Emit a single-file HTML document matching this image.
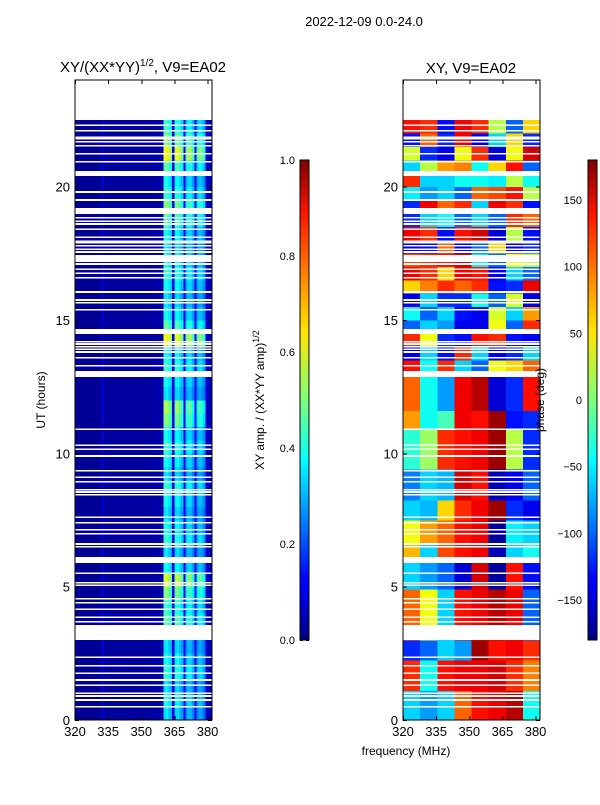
<!DOCTYPE html>
<html><head><meta charset="utf-8"><style>
body{margin:0;background:#fff}
svg text{font-family:"Liberation Sans",sans-serif;fill:#000}
</style></head><body>
<svg id="fig" width="600" height="800" viewBox="0 0 600 800" xmlns="http://www.w3.org/2000/svg" shape-rendering="crispEdges">
<rect width="600" height="800" fill="#fff"/>
<defs>
<linearGradient id="jet" x1="0" y1="1" x2="0" y2="0">
<stop offset="0" stop-color="#00007f"/><stop offset="0.11" stop-color="#0000ff"/><stop offset="0.125" stop-color="#0000ff"/><stop offset="0.34" stop-color="#00dcff"/><stop offset="0.375" stop-color="#00ffff"/><stop offset="0.5" stop-color="#7dff7a"/><stop offset="0.64" stop-color="#ffe600"/><stop offset="0.66" stop-color="#ffd800"/><stop offset="0.89" stop-color="#ff1300"/><stop offset="1" stop-color="#7f0000"/>
</linearGradient>
</defs>
<text x="364" y="26" font-size="13" text-anchor="middle">2022-12-09 0.0-24.0</text>
<text x="143" y="72" font-size="15" text-anchor="middle">XY/(XX*YY)<tspan font-size="10" dy="-6">1/2</tspan><tspan dy="6">, V9=EA02</tspan></text>
<text x="471" y="73" font-size="15" text-anchor="middle">XY, V9=EA02</text>
<g id="leftHeat"></g>
<g id="rightHeat"></g>
<g id="axes"></g>
<text x="406" y="755" font-size="12" text-anchor="middle">frequency (MHz)</text>
<text transform="translate(45,400) rotate(-90)" font-size="12" text-anchor="middle">UT (hours)</text>
<rect x="300" y="160" width="9" height="480" fill="url(#jet)" stroke="#000"/>
<rect x="588" y="160" width="9" height="480" fill="url(#jet)" stroke="#000"/>
<text transform="translate(264,400) rotate(-90)" font-size="12" text-anchor="middle">XY amp. / (XX*YY amp)<tspan font-size="9" dy="-5">1/2</tspan></text>
<text transform="translate(544,400) rotate(-90)" font-size="12" text-anchor="middle">phase (deg)</text>
</svg>
<script>
const NS="http://www.w3.org/2000/svg";
// ---- data ----
const ampFreqStart=[320,321,322,323,324,325,326,327,328,329,330,331,332,333,334,335,336,337,338,339,340,341,342,343,344,345,346,347,348,349,350,351,352,353,354,355,356,357,358,359,360,361,362,363,364,365,366,367,368,369,370,371,372,373,374,375,376,377,378,379,380,381];
const ampBase=[0.02,0.02,0.02,0.02,0.02,0.02,0.02,0.02,0.02,0.02,0.02,0.02,0.1,0.03,0.03,0.03,0.03,0.03,0.03,0.03,0.03,0.03,0.03,0.03,0.03,0.03,0.03,0.03,0.03,0.03,0.03,0.03,0.03,0.03,0.03,0.04,0.04,0.04,0.04,0.04,0.38,0.4,0.36,0.33,0.1,0.36,0.38,0.34,0.31,0.12,0.3,0.34,0.33,0.28,0.12,0.28,0.32,0.3,0.26,0.08,0.06,0.05];
const ampRowMult=[0.9,1.0,0.9,1.1,1.0,0.9,1.0,1.2,1.1,1.3,1.5,1.0,0.9,1.1,1.0,0.9,1.0,1.1,0.9,1.0,1.1,1.0,1.3,1.4,0.9,1.0,1.1,1.0,1.6,1.2,1.0,0.9,1.0,1.1,1.0,0.9,1.0,1.2,1.3,1.1,1.0,1.2,1.6,1.3,1.1];
const phaseFreqEdges=[320,327.75,335.5,343.25,351,358.75,366.5,374.25,382];
const phaseTimeEdges=[0,1.1,2.25,3.0,3.6,4.9,5.9,6.6,7.5,8.25,9.4,10.9,11.6,12.9,13,13.5,14,14.5,15,15.5,16,16.5,17,17.5,18,18.5,19,19.5,20,20.5,21,21.5,22,22.5];
const phaseVals=[
[-60,-80,-60,100,130,140,160,-40],
[120,-40,130,140,140,150,120,90],
[-120,-100,-60,-80,170,130,140,120],
[100,40,-60,130,140,160,140,-100],
[100,40,-60,130,140,160,140,-100],
[-60,-80,-100,-150,150,-170,130,-130],
[70,-60,110,130,140,-160,-60,-40],
[40,80,100,130,140,-170,-50,-60],
[-60,-70,60,120,140,170,-120,-140],
[-90,-60,-70,150,130,-160,-140,-100],
[-30,10,120,130,140,170,20,-120],
[80,-40,-20,140,130,170,-130,-120],
[100,-40,-80,140,160,-150,-120,130],
[100,-40,-80,140,160,-150,-120,130],
[130,-40,120,-60,-100,40,60,100],
[-140,-60,-130,120,-60,-140,-120,-60],
[120,40,-120,-130,130,120,-130,-140],
[-100,-60,-80,-140,-140,40,-100,120],
[-40,-100,-60,-130,-140,30,-60,80],
[-140,-60,-120,-120,-40,-100,30,-140],
[60,90,120,100,120,-130,-120,140],
[140,120,60,140,130,-140,-60,-100],
[110,120,130,150,-50,-100,40,20],
[-140,-130,100,-140,-100,60,-140,-120],
[140,120,-130,130,150,-150,20,-130],
[-120,-60,-40,-100,-60,-100,120,100],
[-120,140,100,120,-60,140,120,-130],
[-50,-80,-60,-100,100,110,130,20],
[120,-60,-60,-40,-40,-50,20,-40],
[-60,20,80,90,-40,60,130,-100],
[30,-120,-140,40,120,-150,40,150],
[-130,100,-120,140,-140,-60,60,-120],
[130,120,-130,140,120,20,-100,60]];
const flagStart=[20.4,18.97,17.17,14.47,12.86,5.89,3.0];
const flagEnd=[20.59,19.2,17.44,14.66,13.09,6.11,3.56];
const thinFlags=[22.31,22.09,21.86,21.79,21.68,21.53,21.23,20.93,19.8,19.5,18.83,18.71,18.6,18.41,18.11,17.96,17.89,17.78,17.66,17.55,17.1,16.91,16.76,16.58,16.05,15.75,15.64,15.38,14.18,14.1,13.99,13.91,13.8,13.58,13.28,10.91,10.31,10.16,9.9,9.34,9.11,8.93,8.63,8.55,8.44,7.61,7.39,7.13,6.98,6.6,6.49,5.51,5.14,5.06,4.54,4.39,4.16,3.86,3.68,2.36,2.03,1.76,1.5,1.31,1.01,0.9,0.75,0.49];
const xTicks=[320,335,350,365,380];
const yTicks=[0,5,10,15,20];
const ampTicks=[0.0,0.2,0.4,0.6,0.8,1.0];
const phaseTicks=[-150,-100,-50,0,50,100,150];
// ---- scales ----
const panels=[{x0:75,g:'leftHeat',n:'left'},{x0:403,g:'rightHeat',n:'right'}];
const W=137, yTop=80, yBot=720, fMin=320, fMax=382, tMax=24;
const xs=(x0,f)=>x0+(f-fMin)/(fMax-fMin)*W;
const ys=h=>yBot-h/tMax*(yBot-yTop);
const ampY=v=>640-v*480;
const phY=v=>400-v/180*240;
function jet(x){x=Math.max(0,Math.min(1,x));const c=v=>Math.round(255*Math.max(0,Math.min(1,v)));
return `rgb(${c(1.5-Math.abs(4*x-3))},${c(1.5-Math.abs(4*x-2))},${c(1.5-Math.abs(4*x-1))})`;}
function R(parent,x,y,w,h,fill){const r=document.createElementNS(NS,'rect');r.setAttribute('x',x);r.setAttribute('y',y);r.setAttribute('width',w);r.setAttribute('height',h);r.setAttribute('fill',fill);parent.appendChild(r);return r;}
function T(parent,x,y,s,anchor){const t=document.createElementNS(NS,'text');t.setAttribute('x',x);t.setAttribute('y',y);t.setAttribute('font-size','13');t.setAttribute('text-anchor',anchor);t.textContent=s;parent.appendChild(t);return t;}
// amplitude heatmap
const L=document.getElementById('leftHeat');
for(let r=0;r<ampRowMult.length;r++){
  const h0=r*0.5,h1=h0+0.5;
  for(let i=0;i<ampBase.length;i++){
    const b=ampBase[i];const v=b<0.2?b:b*ampRowMult[r];
    const x1=xs(75,ampFreqStart[i]),x2=xs(75,ampFreqStart[i]+1);
    const c=R(L,x1,ys(h1),x2-x1+0.3,ys(h0)-ys(h1)+0.3,jet(v));
    
    
  }
}
// phase heatmap
const P=document.getElementById('rightHeat');
for(let r=0;r<phaseVals.length;r++){
  for(let i=0;i<8;i++){
    const x1=xs(403,phaseFreqEdges[i]),x2=xs(403,phaseFreqEdges[i+1]);
    const y1=ys(phaseTimeEdges[r+1]),y2=ys(phaseTimeEdges[r]);
    const c=R(P,x1,y1,x2-x1+0.3,y2-y1+0.3,jet((phaseVals[r][i]+180)/360));
    
    
  }
}
// flags
panels.forEach(p=>{
  const g=document.getElementById(p.g);
  for(let k=0;k<flagStart.length;k++){
    const f=R(g,p.x0,ys(flagEnd[k]),W,ys(flagStart[k])-ys(flagEnd[k]),'#fff');
    
    
  }
  thinFlags.forEach(h=>{
    const f=R(g,p.x0,ys(h+0.03),W,1.6,'#fff');
    
    
  });
  const tf=R(g,p.x0,yTop,W,ys(22.5)-yTop,'#fff');
  
  
});
// axes
const A=document.getElementById('axes');
panels.forEach(p=>{
  const b=R(A,p.x0,yTop,W,yBot-yTop,'none');b.setAttribute('stroke','#000');
  
  
  xTicks.forEach(f=>{
    const x=xs(p.x0,f);
    R(A,x,yBot-4,1,4,'#000');R(A,x,yTop,1,4,'#000');
    const t=T(A,x,yBot+16,String(f),'middle');
    
    
  });
  yTicks.forEach(h=>{
    const y=ys(h);
    R(A,p.x0,y,4,1,'#000');R(A,p.x0+W-4,y,4,1,'#000');
    const t=T(A,p.x0-5,y+5,String(h),'end');
    
    
  });
});
ampTicks.forEach(v=>{
  const y=ampY(v);R(A,300,y,3,1,'#000');R(A,306,y,3,1,'#000');
  const t=T(A,295,y+4,v.toFixed(1),'end');t.setAttribute('font-size','11');
  
  
});
phaseTicks.forEach(v=>{
  const y=phY(v);R(A,588,y,3,1,'#000');R(A,594,y,3,1,'#000');
  const t=T(A,582,y+4,(v<0?'\u2212':'')+Math.abs(v),'end');t.setAttribute('font-size','11');
  
  
});
</script>
</body></html>
